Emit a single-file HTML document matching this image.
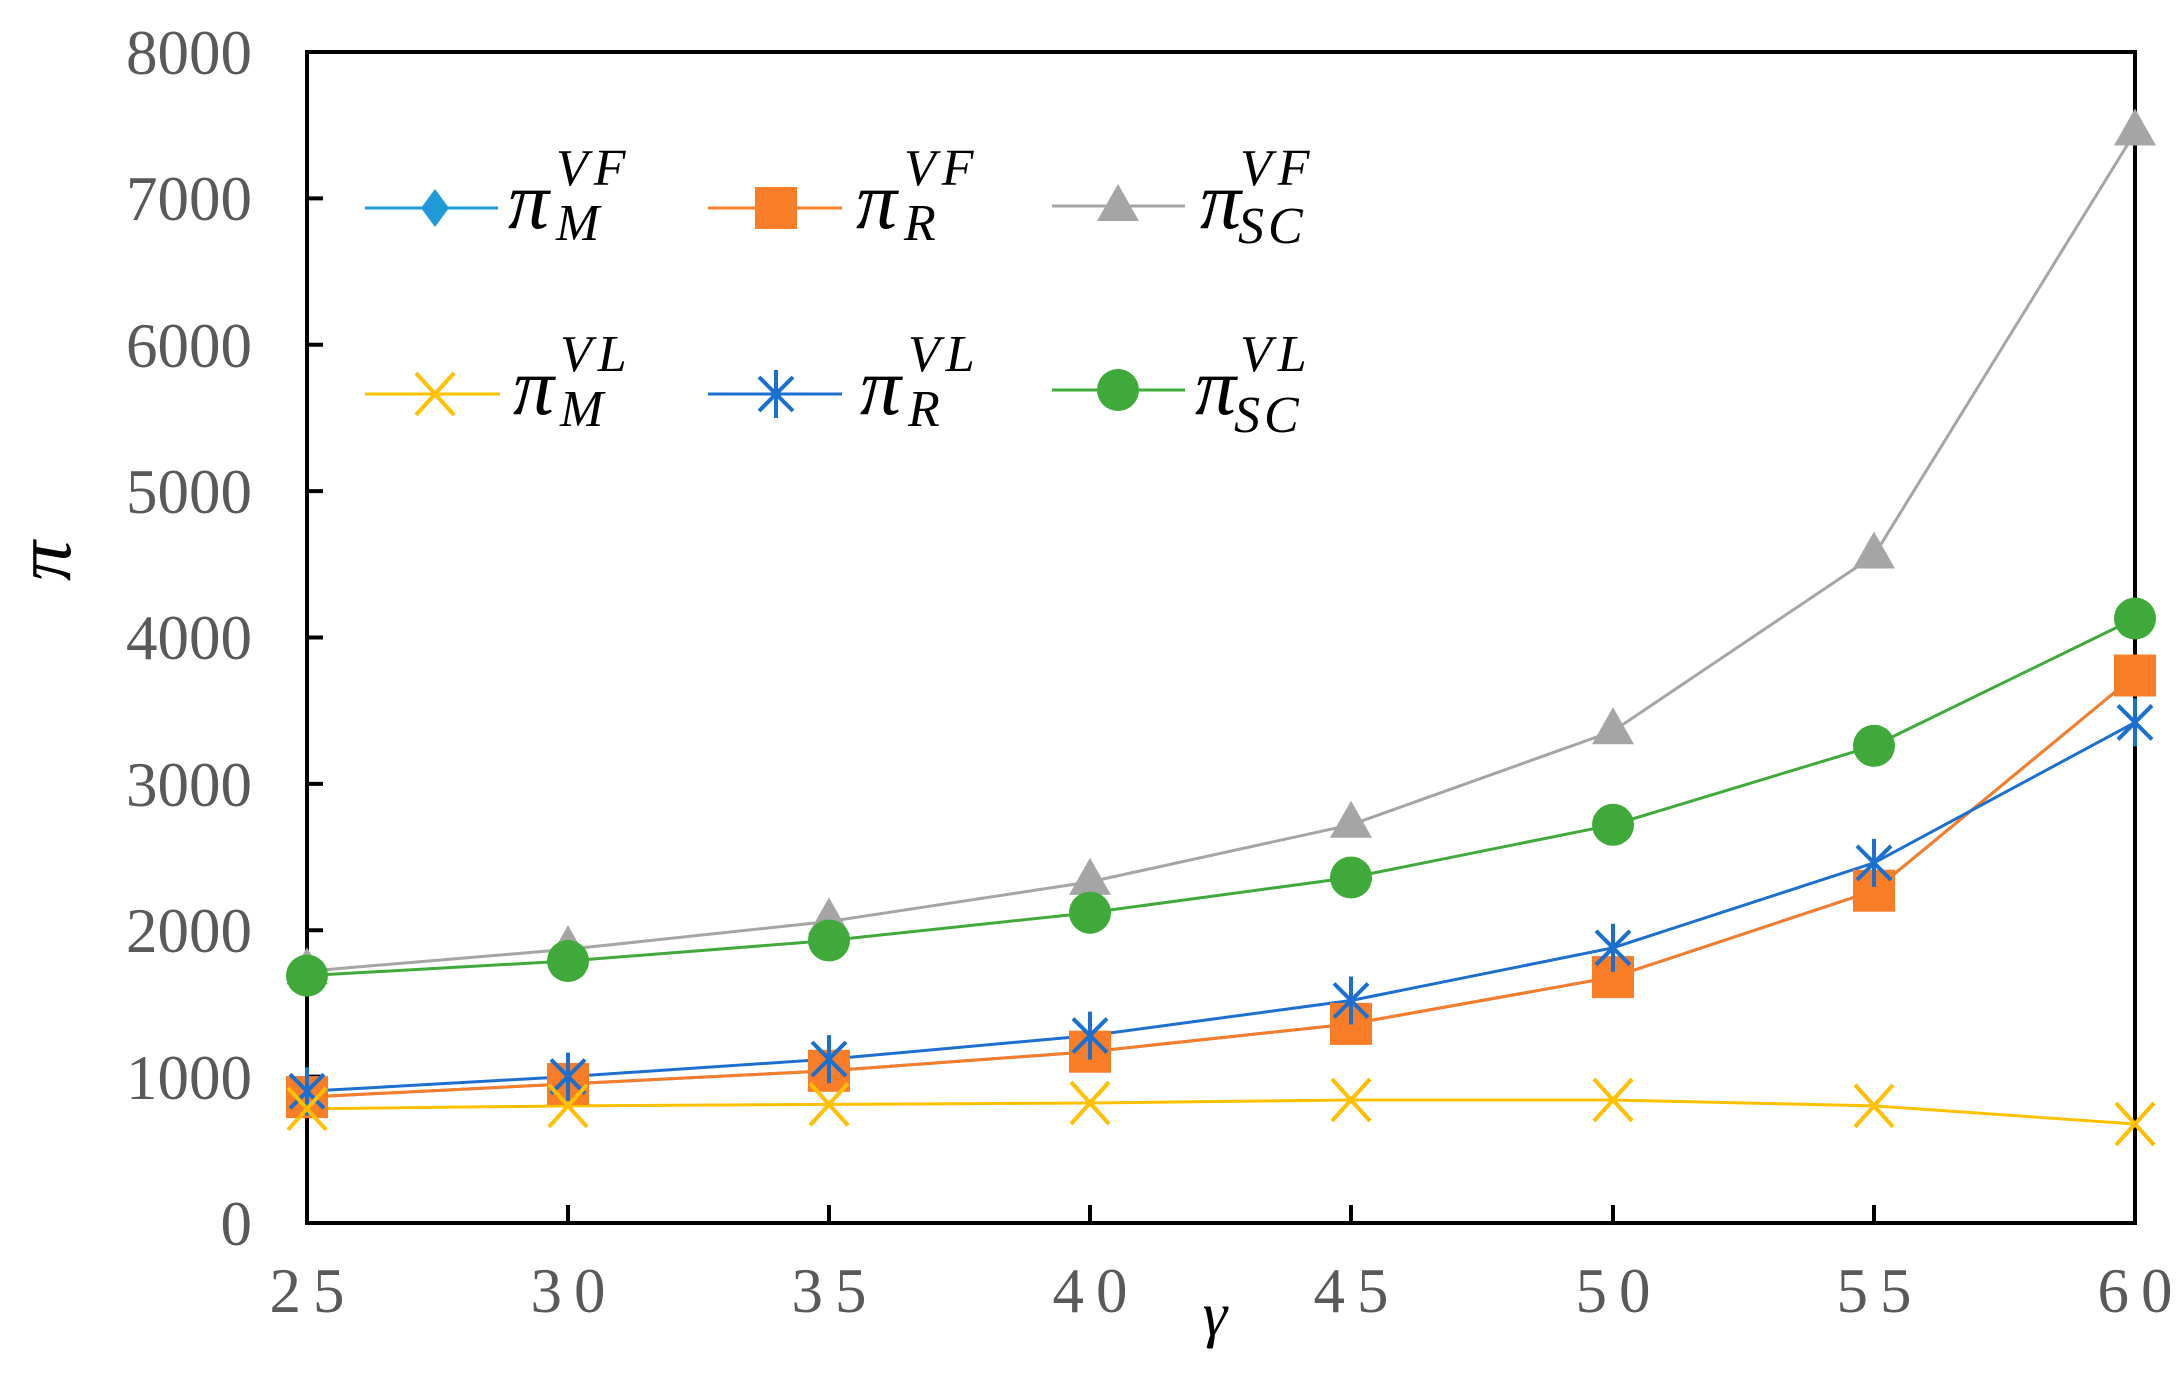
<!DOCTYPE html>
<html><head><meta charset="utf-8"><style>
html,body{margin:0;padding:0;background:#fff;}
svg{display:block;}
.t{font-family:"Liberation Serif",serif;font-size:63px;fill:#595959;}
.l{font-family:"Liberation Serif",serif;font-style:italic;fill:#000;}
</style></head><body>
<svg width="2177" height="1388" viewBox="0 0 2177 1388" xmlns="http://www.w3.org/2000/svg">
<defs>
<path id="tri" d="M0,-24 L21,13 L-21,13 Z" fill="#a5a5a5"/>
<circle id="cir" r="21" fill="#3faa3a"/>
<rect id="sq" x="-21" y="-21" width="42" height="42" fill="#f97c27"/>
<path id="dia" d="M0,-19 L14,0 L0,19 L-14,0 Z" fill="#1f9ad6"/>
<g id="ast" stroke="#1a6fcf" stroke-width="4" fill="none"><path d="M0,-24 V24 M-17,-17 L17,17 M-17,17 L17,-17"/></g>
<g id="xx" stroke="#ffc000" stroke-width="4" fill="none"><path d="M-19,-21 L19,21 M-19,21 L19,-21"/></g>
</defs>
<rect x="307" y="52" width="1828" height="1171" fill="none" stroke="#000" stroke-width="4"/>
<g stroke="#000" stroke-width="4">
<path d="M307,52 h16 M307,198.4 h16 M307,344.8 h16 M307,491.1 h16 M307,637.5 h16 M307,783.9 h16 M307,930.3 h16 M307,1076.6 h16"/>
<path d="M568,1223 v-18 M829,1223 v-18 M1090,1223 v-18 M1351,1223 v-18 M1613,1223 v-18 M1874,1223 v-18"/>
</g>
<g class="t" text-anchor="end">
<text x="252" y="74">8000</text><text x="252" y="220">7000</text><text x="252" y="367">6000</text><text x="252" y="513">5000</text>
<text x="252" y="659">4000</text><text x="252" y="806">3000</text><text x="252" y="952">2000</text><text x="252" y="1099">1000</text><text x="252" y="1245">0</text>
</g>
<g class="t" text-anchor="middle" letter-spacing="12">
<text x="313" y="1312">25</text><text x="574" y="1312">30</text><text x="835" y="1312">35</text><text x="1096" y="1312">40</text>
<text x="1357" y="1312">45</text><text x="1619" y="1312">50</text><text x="1880" y="1312">55</text><text x="2141" y="1312">60</text>
</g>
<text class="l" x="1215" y="1335" font-size="62" text-anchor="middle">γ</text>
<text class="l" font-size="80" text-anchor="middle" transform="translate(70,561) rotate(-90)">π</text>
<polyline fill="none" stroke="#a5a5a5" stroke-width="3" points="307,971.2 568,949.3 829,921.5 1090,881.9 1351,824.8 1613,731.2 1874,555.5 2135,132.5"/>
<polyline fill="none" stroke="#3faa3a" stroke-width="3" points="307,975.6 568,961 829,940.5 1090,912.7 1351,877.5 1613,824.8 1874,745.8 2135,618.5"/>
<polyline fill="none" stroke="#1f9ad6" stroke-width="3" points="307,1097.1 568,1083.9 829,1070.8 1090,1051.7 1351,1023.9 1613,977.1 1874,890.7 2135,675.5"/>
<polyline fill="none" stroke="#f97c27" stroke-width="3" points="307,1097.1 568,1083.9 829,1070.8 1090,1051.7 1351,1023.9 1613,977.1 1874,890.7 2135,675.5"/>
<polyline fill="none" stroke="#1a6fcf" stroke-width="3" points="307,1091.3 568,1076.6 829,1059.1 1090,1035.6 1351,1000.5 1613,947.8 1874,862.9 2135,722.4"/>
<polyline fill="none" stroke="#ffc000" stroke-width="3" points="307,1108.8 568,1105.9 829,1104.4 1090,1103 1351,1100 1613,1100 1874,1105.9 2135,1124"/>
<g>
<use href="#tri" x="307" y="971.2"/><use href="#tri" x="568" y="949.3"/><use href="#tri" x="829" y="921.5"/><use href="#tri" x="1090" y="881.9"/><use href="#tri" x="1351" y="824.8"/><use href="#tri" x="1613" y="731.2"/><use href="#tri" x="1874" y="555.5"/><use href="#tri" x="2135" y="132.5"/>
<use href="#dia" x="307" y="1097.1"/><use href="#dia" x="568" y="1083.9"/><use href="#dia" x="829" y="1070.8"/><use href="#dia" x="1090" y="1051.7"/><use href="#dia" x="1351" y="1023.9"/><use href="#dia" x="1613" y="977.1"/><use href="#dia" x="1874" y="890.7"/><use href="#dia" x="2135" y="675.5"/>
<use href="#sq" x="307" y="1097.1"/><use href="#sq" x="568" y="1083.9"/><use href="#sq" x="829" y="1070.8"/><use href="#sq" x="1090" y="1051.7"/><use href="#sq" x="1351" y="1023.9"/><use href="#sq" x="1613" y="977.1"/><use href="#sq" x="1874" y="890.7"/><use href="#sq" x="2135" y="675.5"/>
<use href="#ast" x="307" y="1091.3"/><use href="#ast" x="568" y="1076.6"/><use href="#ast" x="829" y="1059.1"/><use href="#ast" x="1090" y="1035.6"/><use href="#ast" x="1351" y="1000.5"/><use href="#ast" x="1613" y="947.8"/><use href="#ast" x="1874" y="862.9"/><use href="#ast" x="2135" y="722.4"/>
<use href="#cir" x="307" y="975.6"/><use href="#cir" x="568" y="961"/><use href="#cir" x="829" y="940.5"/><use href="#cir" x="1090" y="912.7"/><use href="#cir" x="1351" y="877.5"/><use href="#cir" x="1613" y="824.8"/><use href="#cir" x="1874" y="745.8"/><use href="#cir" x="2135" y="618.5"/>
<use href="#xx" x="307" y="1108.8"/><use href="#xx" x="568" y="1105.9"/><use href="#xx" x="829" y="1104.4"/><use href="#xx" x="1090" y="1103"/><use href="#xx" x="1351" y="1100"/><use href="#xx" x="1613" y="1100"/><use href="#xx" x="1874" y="1105.9"/><use href="#xx" x="2135" y="1124"/>
</g>
<g stroke-width="3">
<line x1="365" y1="208" x2="498" y2="208" stroke="#1f9ad6"/><use href="#dia" x="435" y="208"/>
<line x1="708" y1="208" x2="842" y2="208" stroke="#f97c27"/><use href="#sq" x="776" y="208"/>
<line x1="1052" y1="206" x2="1185" y2="206" stroke="#a5a5a5"/><use href="#tri" x="1118" y="208"/>
<line x1="365" y1="394" x2="500" y2="394" stroke="#ffc000"/><use href="#xx" x="435" y="394"/>
<line x1="708" y1="394" x2="842" y2="394" stroke="#1a6fcf"/><use href="#ast" x="776" y="394"/>
<line x1="1052" y1="390" x2="1185" y2="390" stroke="#3faa3a"/><use href="#cir" x="1118" y="390"/>
</g>
<g class="l">
<text x="508" y="228" font-size="82">π</text><text x="556" y="185" font-size="52" letter-spacing="6">VF</text><text x="556" y="240" font-size="52">M</text>
<text x="856" y="228" font-size="82">π</text><text x="904" y="185" font-size="52" letter-spacing="6">VF</text><text x="904" y="240" font-size="52">R</text>
<text x="1200" y="228" font-size="82">π</text><text x="1240" y="185" font-size="52" letter-spacing="6">VF</text><text x="1238" y="243" font-size="52" letter-spacing="4">SC</text>
<text x="513" y="414" font-size="82">π</text><text x="560" y="371" font-size="52" letter-spacing="6">VL</text><text x="560" y="426" font-size="52">M</text>
<text x="860" y="414" font-size="82">π</text><text x="908" y="371" font-size="52" letter-spacing="6">VL</text><text x="908" y="426" font-size="52">R</text>
<text x="1195" y="414" font-size="82">π</text><text x="1240" y="371" font-size="52" letter-spacing="6">VL</text><text x="1234" y="432" font-size="52" letter-spacing="4">SC</text>
</g>
</svg>
</body></html>
